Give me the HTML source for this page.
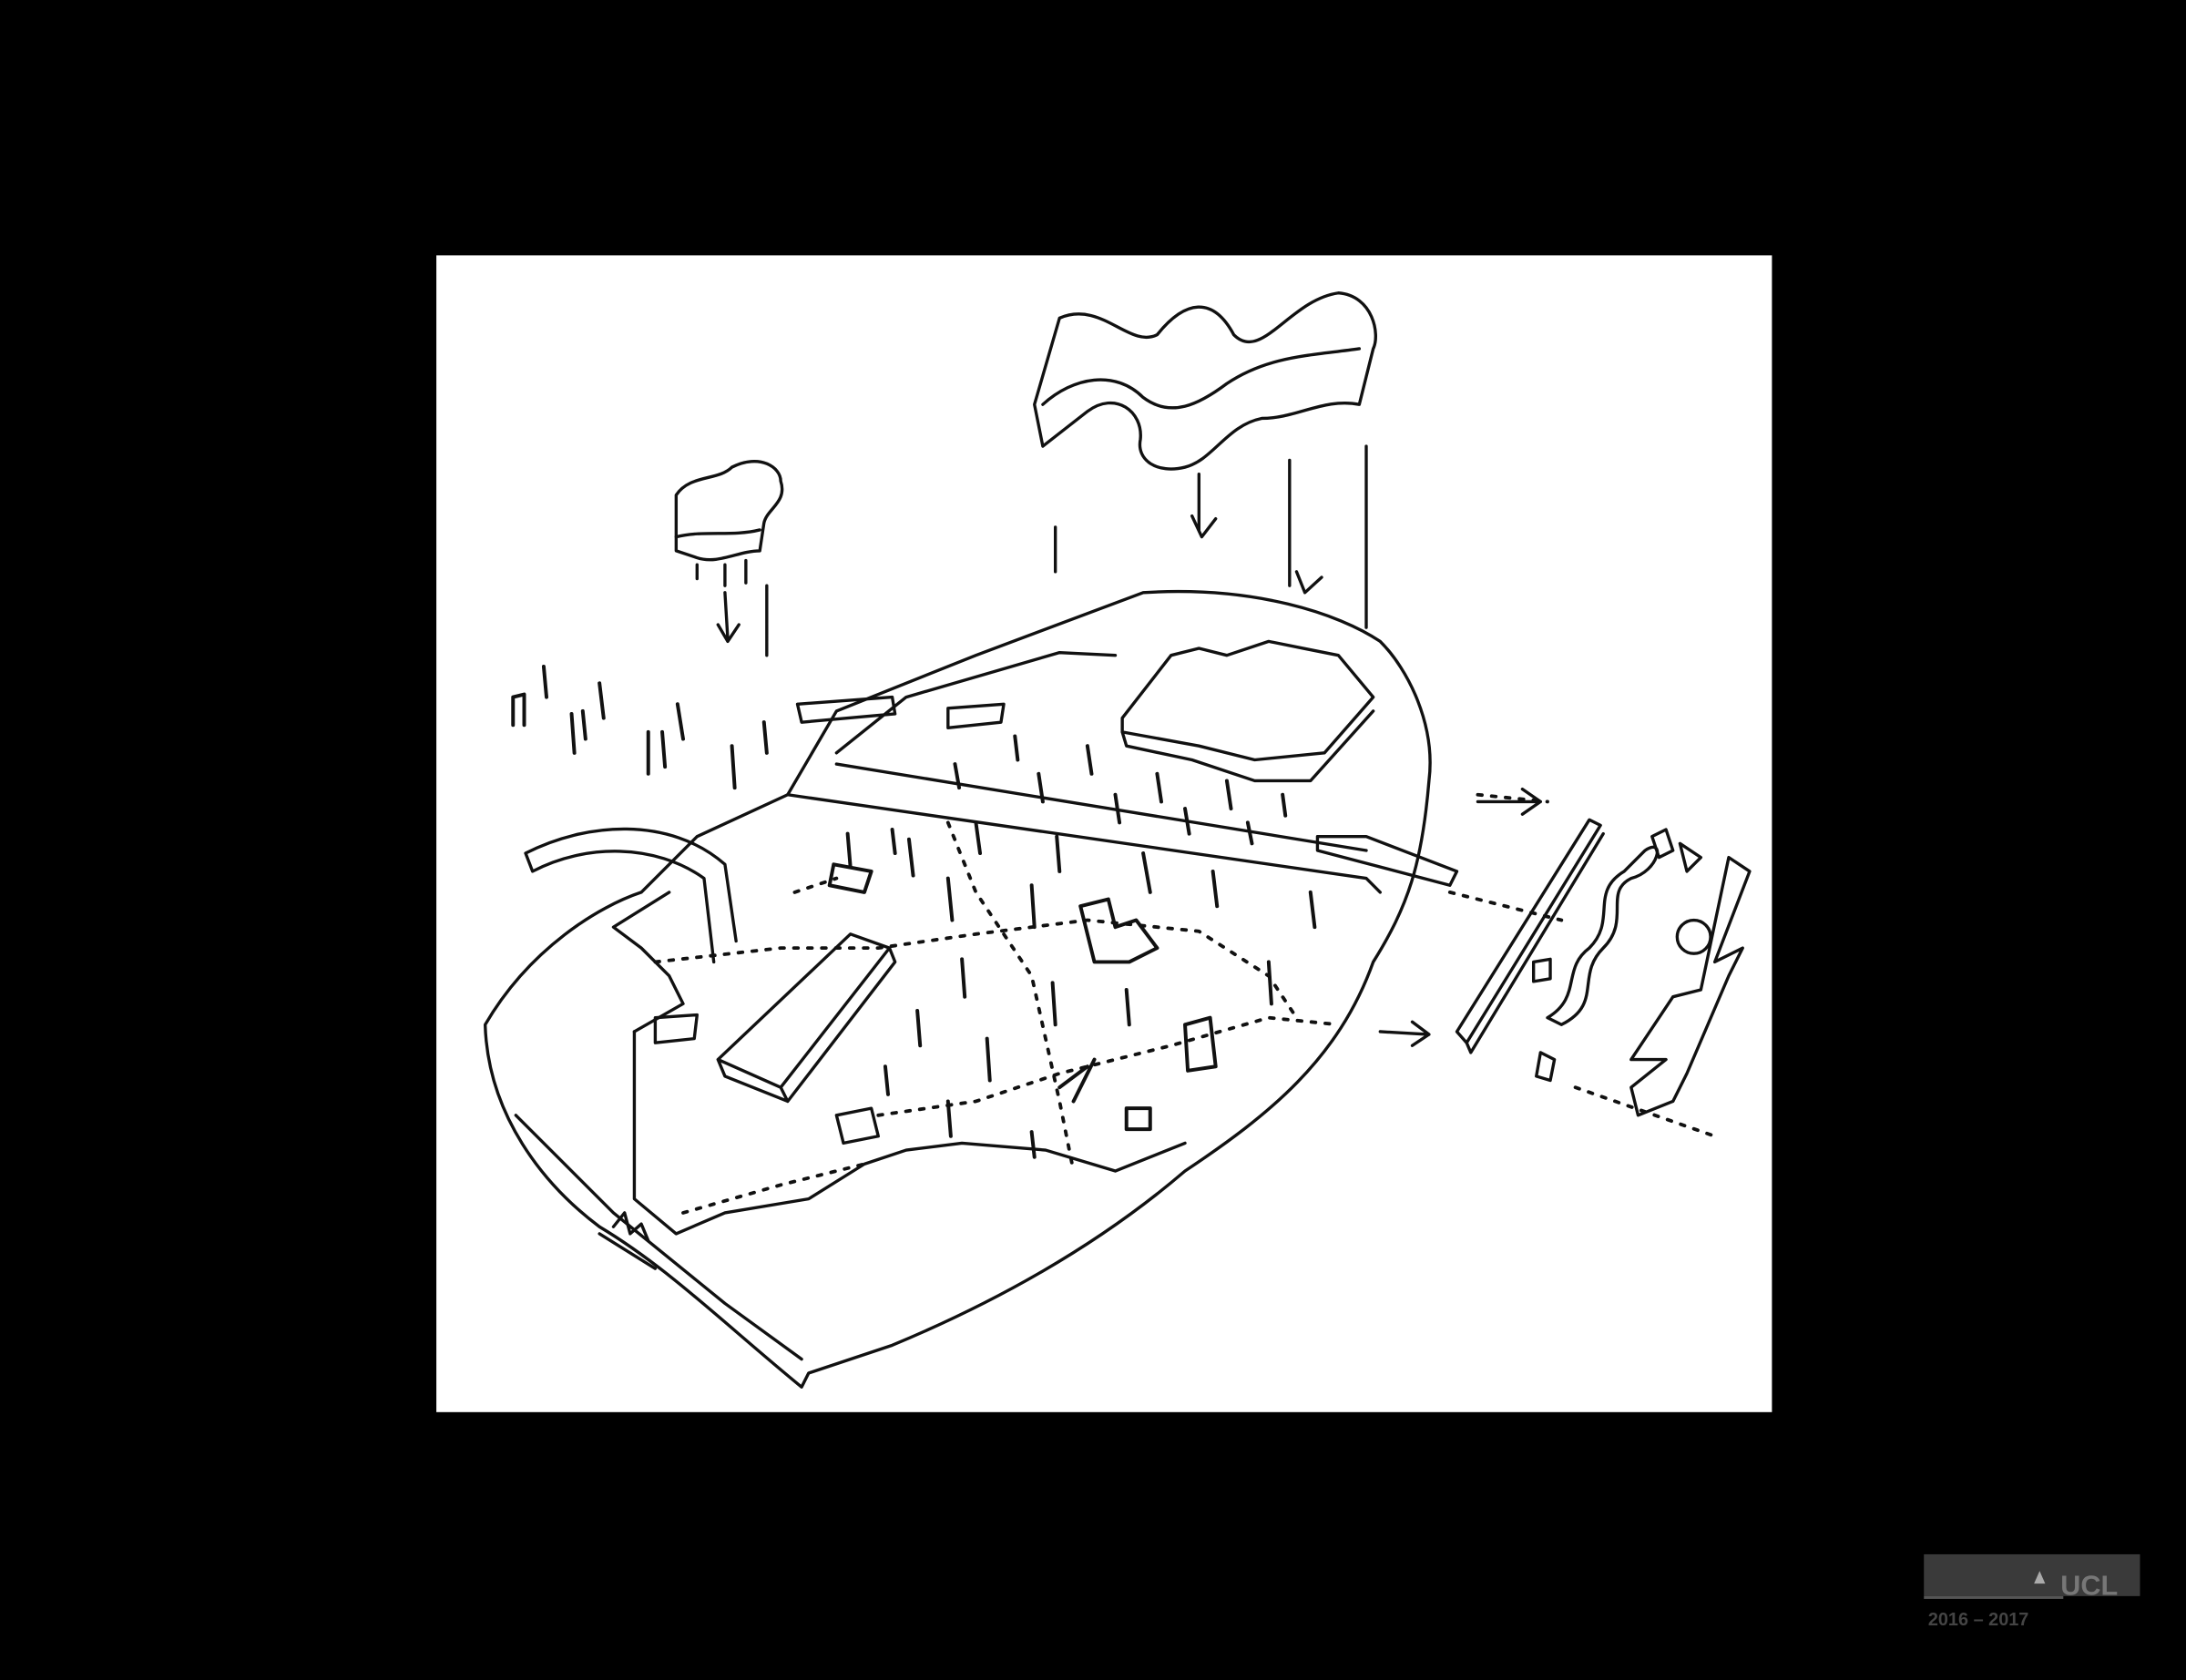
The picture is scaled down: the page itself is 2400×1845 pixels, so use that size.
<!DOCTYPE html>
<html><head><meta charset="utf-8"><style>
html,body{margin:0;padding:0;background:#000;width:2400px;height:1845px;overflow:hidden}
svg{display:block}
</style></head><body>
<svg width="2400" height="1845" viewBox="0 0 1568 1205" xmlns="http://www.w3.org/2000/svg">
<rect width="1568" height="1205" fill="#000"/>
<rect x="313" y="183" width="958" height="830" fill="#fff"/>
<g fill="none" stroke="#111" stroke-width="2.2" stroke-linecap="round" stroke-linejoin="round">
<!-- big cloud -->
<path d="M760 228 C790 215 810 250 830 240 C850 215 870 212 885 240 C905 260 925 215 960 210 C985 212 990 240 985 250 L975 290 C950 285 930 300 905 300 C880 305 870 330 850 335 C830 340 815 330 818 315 C820 295 800 280 780 295 L748 320 L742 290 Z"/>
<path d="M748 290 C770 270 800 265 820 285 C840 300 860 290 880 275 C910 255 940 255 975 250"/>
<path d="M757 378 L757 410 M860 340 L860 380 M925 330 L925 420 M980 320 L980 450"/>
<path d="M855 370 L862 385 L872 372 M930 410 L936 425 L948 414"/>
<!-- small cloud -->
<path d="M485 355 C495 340 515 345 525 335 C545 325 560 335 560 345 C565 360 550 365 548 375 L545 395 C530 395 515 405 500 400 L485 395 Z"/>
<path d="M485 385 C505 380 525 385 545 380 M500 405 L500 415 M520 405 L520 420 M535 402 L535 418"/>
<path d="M520 425 L522 458 M515 448 L522 460 L530 448 M550 420 L550 470"/>
<!-- main site outline -->
<path d="M348 735 C380 680 430 650 460 640 L500 600 L565 570 L600 510 L700 470 L820 425 C900 420 960 440 990 460 C1010 480 1030 520 1025 560 C1020 620 1010 650 985 690 C960 760 910 800 850 840 C780 900 700 940 640 965 L580 985 L575 995 C520 950 480 910 430 880 C390 850 350 800 348 735 Z"/>
<path d="M455 740 L455 860 L485 885 L520 870 L580 860 L620 835 L650 825 L690 820 L750 825 L800 840 L850 820"/>
<path d="M455 740 L490 720 L480 700 L460 680 L440 665 L480 640"/>
<path d="M565 570 L980 630 L990 640 M600 548 L980 610"/>
<path d="M370 800 L440 870 L520 935 L575 975 M430 885 L470 910"/>
<!-- curved wall left -->
<path d="M377 612 C420 590 480 585 520 620 L528 675 M377 612 L382 625 C420 605 470 605 505 630 L512 690"/>
<!-- top wall segments -->
<path d="M572 505 L640 500 L642 512 L575 518 Z M600 540 L650 500 L760 468 L800 470"/>
<path d="M680 508 L720 505 L718 518 L680 522 Z"/>
<!-- box building -->
<path d="M805 515 L840 470 L860 465 L880 470 L910 460 L935 465 L960 470 L985 500 L950 540 L900 545 L860 535 L805 525 Z"/>
<path d="M805 525 L808 535 L855 545 L900 560 L940 560 L985 510"/>
<!-- tilted long block -->
<path d="M515 760 L610 670 L638 680 L560 780 Z M515 760 L520 772 L565 790 L560 780 M638 680 L642 690 L565 790"/>
<path d="M470 730 L500 728 L498 745 L470 748 Z"/>
<path d="M600 800 L625 795 L630 815 L605 820 Z"/>
<!-- inner dotted paths -->
<g stroke-dasharray="3 7" stroke-width="2.5">
<path d="M470 690 L560 680 L630 680 L700 670 L780 660 L860 668 L910 700 L930 730"/>
<path d="M680 590 L700 640 L740 700 L760 790 L770 840"/>
<path d="M630 800 L700 790 L760 770 L840 750 L910 730 L960 735"/>
<path d="M490 870 L560 850 L620 835"/>
<path d="M1060 570 L1110 575 M1040 640 L1120 660 M1130 780 L1230 815"/>
<path d="M570 640 L600 630"/>
</g>
<!-- arrows -->
<path d="M1060 575 L1105 575 M1092 566 L1105 575 L1092 584"/>
<path d="M990 740 L1025 742 M1013 733 L1025 742 L1013 750"/>
<!-- right fence -->
<path d="M1045 740 L1140 588 L1148 592 L1052 748 Z M1052 748 L1055 755 L1150 598"/>
<path d="M945 600 L980 600 L1045 625 L1040 635 L945 610 Z"/>
<!-- right objects -->
<path d="M1180 610 C1195 600 1190 625 1170 630 C1150 640 1170 660 1150 680 C1130 700 1150 720 1120 735 L1110 730 C1135 715 1120 695 1140 680 C1160 660 1140 640 1165 625 Z"/>
<path d="M1240 615 L1255 625 L1230 690 L1250 680 L1240 700 L1210 770 L1200 790 L1175 800 L1170 780 L1195 760 L1170 760 L1200 715 L1220 710 Z"/>
<circle cx="1215" cy="672" r="12"/>
<path d="M1185 600 L1195 595 L1200 610 L1190 615 Z M1205 605 L1220 615 L1210 625 Z M1100 690 L1112 688 L1112 702 L1100 704 Z M1105 755 L1115 760 L1112 775 L1102 772 Z"/>
<!-- figures -->
<g stroke-width="2.6">
<path d="M368 520 L368 500 L376 498 L376 520 M390 478 L392 500 M410 512 L412 540 M418 510 L420 530 M430 490 L433 515 M465 525 L465 555 M475 525 L477 550 M486 505 L490 530 M525 535 L527 565 M548 518 L550 540"/>
<path d="M685 548 L688 565 M745 555 L748 575 M780 535 L783 555 M800 570 L803 590 M830 555 L833 575 M850 580 L853 598 M880 560 L883 580 M895 590 L898 605 M920 570 L922 585 M728 528 L730 545"/>
<path d="M608 598 L610 622 M640 595 L642 612 M652 602 L655 628 M700 590 L703 612 M758 600 L760 625 M680 630 L683 660 M740 635 L742 665 M820 612 L825 640 M870 625 L873 650 M940 640 L943 665"/>
<path d="M690 688 L692 715 M755 705 L757 735 M808 710 L810 735 M910 690 L912 720 M658 725 L660 750 M708 745 L710 775 M635 765 L637 785 M680 790 L682 815 M740 812 L742 830"/>
<path d="M598 620 L625 625 L620 640 L595 635 Z M775 650 L795 645 L800 665 L815 660 L830 680 L810 690 L785 690 Z M850 735 L868 730 L872 765 L852 768 Z M808 795 L825 795 L825 810 L808 810 Z M760 780 L780 765 M770 790 L785 760"/>
</g>
<path d="M440 880 L448 870 L452 885 L460 878 L465 890"/>
</g>
<!-- UCL logo -->
<rect x="1380" y="1115" width="155" height="30" fill="#3a3a3a"/>
<rect x="1380" y="1145" width="100" height="2" fill="#555"/>
<text x="1478" y="1144" font-family="Liberation Sans, sans-serif" font-size="20" font-weight="bold" fill="#777">UCL</text>
<polygon points="1459,1136 1463,1127 1467,1136" fill="#aaa"/>
<text x="1383" y="1166" font-family="Liberation Sans, sans-serif" font-size="13" font-weight="bold" fill="#444">2016 – 2017</text>
</svg>
</body></html>
